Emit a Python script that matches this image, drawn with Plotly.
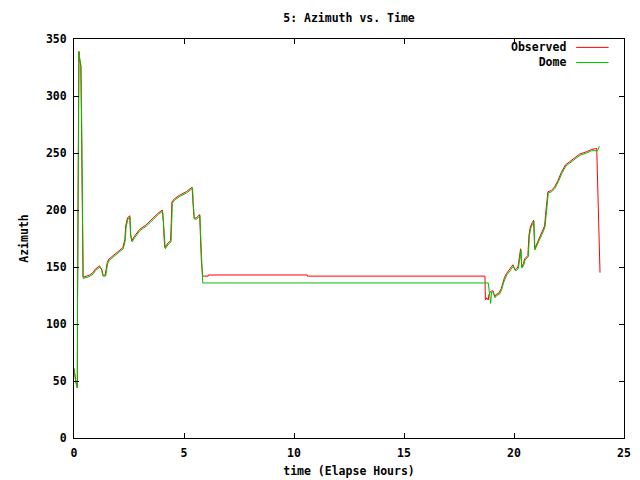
import plotly.graph_objects as go

# ---- data ----
dome_t = [0, 0.03, 0.07, 0.10, 0.15, 0.16, 0.20, 0.23, 0.26, 0.28, 0.32, 0.35, 0.39, 0.42,
          0.60, 0.73, 0.88, 0.98, 1.18, 1.28, 1.32, 1.44, 1.48, 1.53, 1.61, 1.79, 2.02, 2.24,
          2.33, 2.37, 2.45, 2.55, 2.58, 2.64, 2.77, 3.00, 3.30, 3.61, 3.83, 4.03, 4.07, 4.11,
          4.15, 4.29, 4.41, 4.44, 4.47, 4.59, 4.82, 5.12, 5.39, 5.42, 5.47, 5.58, 5.73, 5.75,
          5.80, 5.85, 18.83, 18.85, 18.88, 18.94, 18.98, 19.06, 19.14, 19.21, 19.33, 19.44,
          19.52, 19.59, 19.67, 19.82, 19.97, 20.05, 20.12, 20.20, 20.27, 20.32, 20.36, 20.45,
          20.50, 20.65, 20.70, 20.76, 20.85, 20.91, 20.95, 21.03, 21.11, 21.26, 21.41, 21.45,
          21.52, 21.56, 21.71, 21.86, 22.02, 22.17, 22.36, 22.55, 22.77, 23.00, 23.30, 23.53,
          23.80, 23.88]
dome_az = [61, 55, 51, 48, 44, 117, 264, 339, 333, 330, 326, 276, 185, 140,
           141, 142, 144, 147, 150, 147, 142, 142, 147, 153, 156, 159, 162, 166,
           173, 185, 192, 194, 178, 172, 176, 182, 186, 192, 196, 199, 190, 174,
           166, 170, 172, 188, 206, 209, 212, 215, 219, 206, 192, 192, 195, 181,
           152, 136, 136, 133, 124, 118, 128, 128, 123, 125, 126, 130,
           136, 140, 143, 146.5, 151, 147, 147, 149, 160, 165, 149, 152,
           156, 159, 177, 184, 188, 190, 165, 168, 172, 178, 185, 194,
           207, 215, 216, 219, 225, 232, 238.6, 241.5, 244.5, 248, 250, 252,
           252, 256]

obs_t = [0, 0.03, 0.07, 0.10, 0.15, 0.16, 0.19, 0.22, 0.25, 0.27, 0.31, 0.34, 0.38, 0.41,
         0.58, 0.71, 0.86, 0.96, 1.16, 1.26, 1.30, 1.42, 1.46, 1.51, 1.59, 1.77, 2.00, 2.22,
         2.31, 2.35, 2.43, 2.53, 2.57, 2.62, 2.75, 2.98, 3.28, 3.59, 3.81, 4.01, 4.06, 4.10,
         4.13, 4.27, 4.39, 4.42, 4.45, 4.57, 4.80, 5.10, 5.37, 5.41, 5.46, 5.56, 5.71, 5.74,
         5.79, 5.85, 6.10, 6.11, 10.60, 10.61, 18.68, 18.70, 18.76, 18.83, 18.86, 18.92,
         18.97, 19.05, 19.12, 19.19, 19.31, 19.42, 19.50, 19.57, 19.65, 19.80, 19.95, 20.03,
         20.10, 20.18, 20.25, 20.30, 20.35, 20.43, 20.48, 20.63, 20.68, 20.74, 20.83, 20.89,
         20.94, 21.01, 21.09, 21.24, 21.39, 21.43, 21.50, 21.54, 21.69, 21.84, 22.00, 22.15,
         22.34, 22.53, 22.75, 22.98, 23.28, 23.51, 23.76, 23.79, 23.88, 23.91]
obs_az = [61, 55, 51, 48, 44, 118, 264, 339, 333, 330, 326, 276, 185, 141,
          142, 143, 145, 148, 151, 148, 143, 143, 148, 154, 157, 160, 163, 167,
          174, 186, 193, 195, 179, 173, 177, 183, 187, 193, 197, 200, 190, 174,
          167, 171, 173, 189, 207, 210, 213, 216, 220, 206, 193, 193, 196, 181,
          155, 142, 142, 143, 143, 142, 142, 121, 123, 121, 126, 128,
          129, 129, 124, 126, 127, 131, 137, 141, 144, 147.5, 152, 148,
          148, 150, 161, 166, 150, 153, 157, 160, 178, 185, 189, 191,
          166, 169, 173, 179, 186, 195, 208, 216, 217, 220, 226, 233,
          239.6, 242.5, 245.5, 249, 251, 253, 254, 228, 174, 145]

x_ticks = [0, 5, 10, 15, 20, 25]
y_ticks = [0, 50, 100, 150, 200, 250, 300, 350]
series_names = ["Observed", "Dome"]
series_colors = ["#ff0000", "#00c000"]

FONT = "DejaVu Sans Mono"
FS = 11.5

fig = go.Figure()
fig.add_trace(go.Scatter(x=obs_t, y=obs_az, mode="lines", name=series_names[0],
                         line=dict(color=series_colors[0], width=1), showlegend=False))
fig.add_trace(go.Scatter(x=dome_t, y=dome_az, mode="lines", name=series_names[1],
                         line=dict(color=series_colors[1], width=1), showlegend=False))

axis_common = dict(showline=True, linecolor="black", linewidth=1, mirror="allticks",
                   ticks="inside", ticklen=5, tickcolor="black", showgrid=False,
                   zeroline=False, automargin=False, ticklabelstandoff=4,
                   tickfont=dict(family=FONT, size=FS, color="black"))

fig.update_xaxes(range=[0, 25], tickvals=x_ticks, ticktext=[f"<b>{v}</b>" for v in x_ticks],
                 title=dict(text="<b>time (Elapse Hours)</b>", standoff=8,
                            font=dict(family=FONT, size=FS, color="black")),
                 **axis_common)
fig.update_yaxes(range=[0, 350], tickvals=y_ticks, ticktext=[f"<b>{v}</b>" for v in y_ticks],
                 title=dict(text="<b>Azimuth</b>", standoff=14,
                            font=dict(family=FONT, size=FS, color="black")),
                 **axis_common)

# gnuplot-style key: labels right-aligned in one text block, line samples on their right
legend_text = "<br>".join(f"<b>{n}</b>" for n in series_names)
annotations = [dict(text=legend_text, x=0.899, y=0.96, xref="paper", yref="paper",
                    xanchor="right", yanchor="middle", align="right", showarrow=False,
                    font=dict(family=FONT, size=FS, color="black"))]
shapes = []
for col, yy in zip(series_colors, [0.979, 0.941]):
    shapes.append(dict(type="line", xref="paper", yref="paper", x0=0.913, x1=0.972,
                       y0=yy, y1=yy, line=dict(color=col, width=1)))

fig.update_layout(
    width=640, height=480,
    margin=dict(l=74, r=16, t=39, b=42),
    paper_bgcolor="white", plot_bgcolor="white",
    title=dict(text="<b>5: Azimuth vs. Time</b>", xref="paper", x=0.5, xanchor="center",
               yref="container", y=0.962, yanchor="middle",
               font=dict(family=FONT, size=FS, color="black")),
    annotations=annotations, shapes=shapes,
)

fig.write_html("out.html", config={"displayModeBar": False})

# remove the browser's default page margin so the figure sits at (0,0)
with open("out.html", "r", encoding="utf-8") as f:
    html = f.read()
html = html.replace("<head>", "<head><style>html,body{margin:0;padding:0;overflow:hidden;}</style>", 1)
with open("out.html", "w", encoding="utf-8") as f:
    f.write(html)
